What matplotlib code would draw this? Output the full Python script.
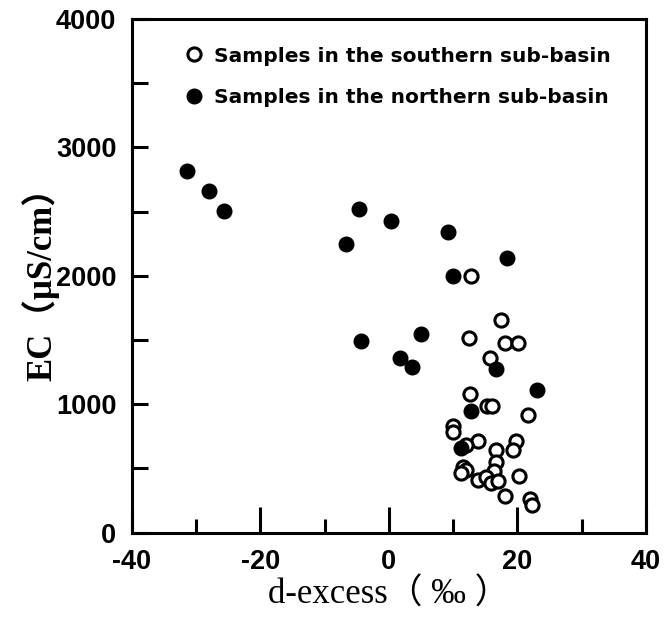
import matplotlib
matplotlib.use("Agg")
import matplotlib.pyplot as plt
from matplotlib.ticker import MultipleLocator

plt.rcParams["axes.unicode_minus"] = False

# Southern sub-basin samples (open circles)
south_x = [12.8, 17.5, 12.5, 18.0, 20.1, 15.8, 12.6, 15.3, 16.1, 21.6,
           9.9, 10.0, 13.8, 12.0, 16.7, 19.7, 19.3, 16.6, 16.4, 11.5,
           12.0, 11.2, 13.8, 15.1, 15.9, 16.9, 20.3, 18.0, 21.9, 22.3]
south_y = [1998, 1655, 1512, 1478, 1478, 1361, 1082, 988, 988, 918,
           827, 780, 709, 684, 645, 709, 645, 553, 483, 514,
           488, 462, 410, 436, 384, 405, 441, 285, 259, 215]

# Northern sub-basin samples (filled circles)
north_x = [-31.4, -28.0, -25.7, -4.7, 0.3, -6.6, 9.2, 18.4, 10.0, -4.3,
           5.0, 1.7, 3.6, 16.6, 23.1, 12.8, 11.2]
north_y = [2814, 2660, 2506, 2517, 2423, 2244, 2340, 2139, 1998, 1491,
           1548, 1361, 1291, 1275, 1108, 944, 658]

x_ticks = [-40, -20, 0, 20, 40]
y_ticks = [0, 1000, 2000, 3000, 4000]

fig = plt.figure(figsize=(6.64, 6.2), dpi=100)
ax = fig.add_axes([0.1983, 0.1411, 0.7747, 0.8283])

ax.plot(south_x, south_y, linestyle="none", marker="o", markersize=9.5,
        markerfacecolor="white", markeredgecolor="black", markeredgewidth=2.2,
        label="Samples in the southern sub-basin")
ax.plot(north_x, north_y, linestyle="none", marker="o", markersize=10.5,
        markerfacecolor="black", markeredgecolor="black",
        label="Samples in the northern sub-basin")

ax.set_xlim(-40, 40)
ax.set_ylim(0, 4000)
ax.set_xticks(x_ticks)
ax.set_yticks(y_ticks)
ax.xaxis.set_minor_locator(MultipleLocator(10))
ax.yaxis.set_minor_locator(MultipleLocator(500))

for s in ax.spines.values():
    s.set_linewidth(2.2)

ax.tick_params(axis="x", which="major", direction="in", length=18.5, width=2.2, pad=12)
ax.tick_params(axis="x", which="minor", direction="in", length=10, width=2.2)
ax.tick_params(axis="y", which="major", direction="in", length=11.5, width=2.2, pad=11)
ax.tick_params(axis="y", which="minor", direction="in", length=11.5, width=2.2)

for lab in ax.get_xticklabels() + ax.get_yticklabels():
    lab.set_fontfamily("Liberation Sans")
    lab.set_fontweight("bold")
    lab.set_fontsize(19.5)

ax.set_xlabel("d-excess（ ‰ ）", family=["Liberation Serif", "Noto Sans CJK SC"],
              fontsize=25, va="center")
ax.xaxis.set_label_coords(0.5, -0.122)
ax.set_ylabel("EC（μS/cm）", family=["Liberation Serif", "Noto Sans CJK SC"],
              fontsize=25, fontweight="bold", va="center")
ax.yaxis.set_label_coords(-0.178, 0.5)

leg = ax.legend(loc="upper left", bbox_to_anchor=(0.085, 0.962), frameon=False,
                handlelength=1.0, handletextpad=0.5, labelspacing=1.1,
                borderaxespad=0, prop={"family": "DejaVu Sans", "weight": "bold", "size": 14.5})

fig.savefig("out.png", dpi=100)
